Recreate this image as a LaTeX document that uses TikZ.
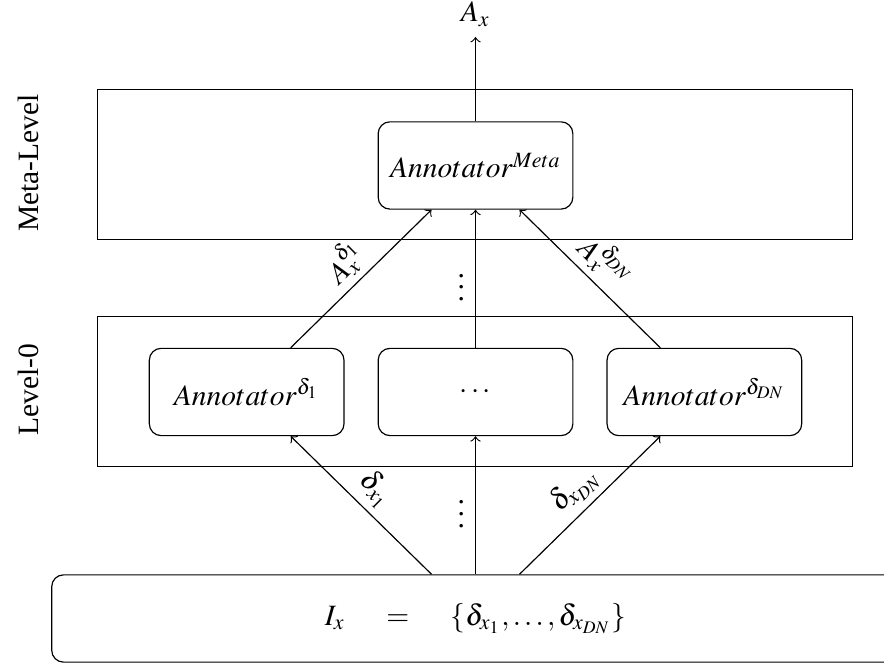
\documentclass[tikz,border=0pt]{standalone}
\usepackage{mathptmx}
\usepackage{fontspec}
\setmainfont{Liberation Serif}
\usetikzlibrary{calc,positioning}
\tikzset{
    layer/.style = {rectangle, draw, minimum width=9.0cm, minimum height=1.79cm},
    annot/.style = {rectangle, rounded corners=4pt, draw, minimum width=2.32cm, minimum height=1.04cm},
    inbox/.style = {rectangle, rounded corners=4pt, draw, minimum width=10.1cm, minimum height=1.04cm},
    el/.style = {inner sep=2pt, sloped}
}

\begin{document}
\begin{tikzpicture}[x=0.01191cm,y=0.01191cm,node distance=0.393cm, auto, thin, ->]
  \useasboundingbox (0,0) rectangle (884,666);
  % Draw the nodes
  \node[layer] (metalayer) at (475,501.5) {};
  \node[layer] (baselayer) at (475,274.5) {};
  \node[annot] (meta) at (475.5,500.5) {$Annotator^{Meta}$};
  \node[annot] (mid) at (475.5,274) {$\cdots$};
  \node[annot] (annotone) [left=of mid] {$Annotator^{\delta_1}$};
  \node[annot] (annotdn) [right=of mid] {$Annotator^{\delta_{DN}}$};
  \node[inbox] (input) at (475.5,47.5) {};
  \node (inputtext) at (475.5,47.5) {$I_x \hspace{14pt} {=} \hspace{14pt} \{\delta_{x_1},\ldots,\delta_{x_{DN}}\}$};
  \node[anchor=south] (out) at (475.5,629) {$A_x$};
  \node[rotate=90] (metalabel) at (28,503) {Meta-Level};
  \node[rotate=90] (baselabel) at (28,276) {Level-0};

  % Draw the arrows
  \draw (meta) -- (out);
  \draw ($(annotone.north)+(44,0)$) -- node[el] {$A_x^{\delta_1}$} ($(meta.south)+(-44,0)$);
  \draw (mid) -- node {$\vdots$} (meta);
  \draw ($(annotdn.north)+(-44,0)$) -- node[el] {$A_x^{\delta_{DN}}$} ($(meta.south)+(44,0)$);
  \draw ($(input.north)+(-44,0)$) -- node[el] {$\delta_{x_1}$} ($(annotone.south)+(44,0)$);
  \draw (input) -- node {$\vdots$} (mid);
  \draw ($(input.north)+(44,0)$) -- node[el] {$\delta_{x_{DN}}$} ($(annotdn.south)+(-44,0)$);
\end{tikzpicture}
\end{document}
